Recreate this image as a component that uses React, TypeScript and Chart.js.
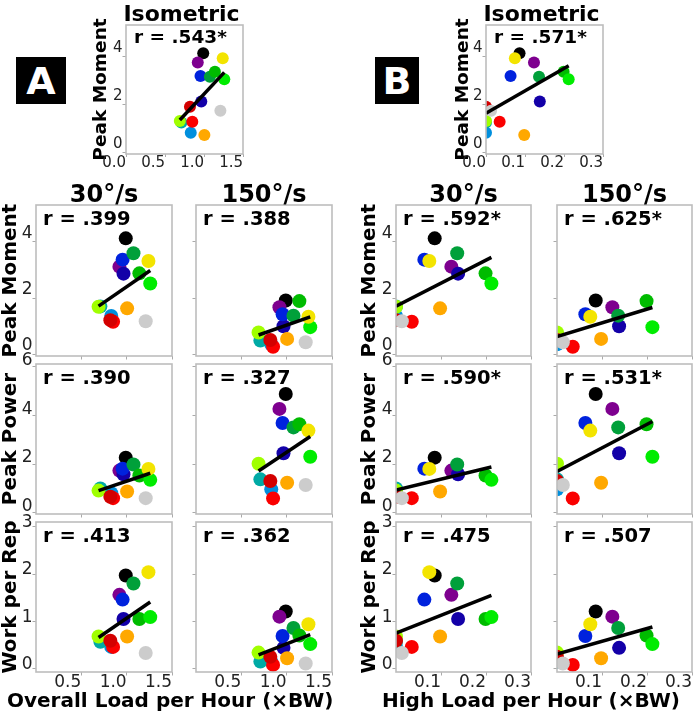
import React, { useEffect, useRef } from "react";
import { Chart, registerables } from "chart.js";

Chart.register(...registerables);

const FONT = '"DejaVu Sans", "Liberation Sans", sans-serif';

// One colour per subject (nipy_spectral sampled in 15 steps)
const subjectColors = [
  "#000000", "#7e008f", "#1300a8", "#0022dd", "#008fdd", "#00aaa5", "#00a03a", "#00bb00",
  "#00ec00", "#a0ff00", "#f3e400", "#ffa800", "#fa0000", "#d30000", "#cccccc",
];

// Training load per hour (×BW), per subject
const overallLoad = [0.99, 0.92, 0.965, 0.955, 0.83, 0.71, 1.075, 1.14, 1.26, 0.69, 1.24, 1.005, 0.85, 0.82, 1.21];
const highLoad = [0.086, 0.123, 0.138, 0.063, 0, 0, 0.136, 0.199, 0.212, 0, 0.074, 0.098, 0.035, 0, 0.013];

// Strength outcomes per subject
const isoMoment = [4.14, 3.75, 2.12, 3.19, 0.82, 1.25, 3.16, 3.37, 3.05, 1.31, 3.93, 0.72, 1.28, 1.9, 1.74];
const moment30 = [4.13, 3.12, 2.87, 3.37, 1.36, 1.7, 3.6, 2.88, 2.52, 1.69, 3.32, 1.63, 1.15, 1.21, 1.17];
const moment150 = [1.91, 1.67, 0.99, 1.42, 0.35, 0.48, 1.37, 1.89, 0.96, 0.77, 1.33, 0.54, 0.26, 0.5, 0.42];
const power30 = [2.26, 1.73, 1.58, 1.81, 0.8, 1.0, 1.98, 1.53, 1.35, 0.91, 1.8, 0.87, 0.6, 0.66, 0.6];
const power150 = [4.87, 4.26, 2.44, 3.68, 0.96, 1.37, 3.5, 3.63, 2.3, 2.01, 3.37, 1.23, 0.59, 1.3, 1.14];
const work30 = [1.97, 1.56, 1.05, 1.46, 0.46, 0.57, 1.8, 1.05, 1.09, 0.68, 2.04, 0.68, 0.46, 0.59, 0.33];
const work150 = [1.21, 1.1, 0.44, 0.69, 0.15, 0.15, 0.86, 0.7, 0.52, 0.34, 0.94, 0.22, 0.08, 0.25, 0.11];

// Panel order: isometric, moment 30, moment 150, power 30, power 150, work 30, work 150
const outcomes = [isoMoment, moment30, moment150, power30, power150, work30, work150];
const rOverallLoad = [".543*", ".399", ".388", ".390", ".327", ".413", ".362"];
const rHighLoad = [".571*", ".592*", ".625*", ".590*", ".531*", ".475", ".507"];
// Fitted line at the lowest and highest load of each group
const fitOverallStart = [1.35, 1.71, 0.68, 0.91, 1.71, 0.66, 0.29];
const fitOverallEnd = [3.34, 2.98, 1.33, 1.62, 3.13, 1.41, 0.72];
const fitHighStart = [1.63, 1.71, 0.62, 0.93, 1.69, 0.75, 0.31];
const fitHighEnd = [3.62, 3.45, 1.66, 1.88, 3.74, 1.55, 0.88];

const overallTicks = [0, 0.5, 1.0, 1.5];
const highTicks = [0, 0.1, 0.2, 0.3];
const momentTicks = [0, 2, 4];
const powerTicks = [0, 2, 4, 6];
const workTicks = [0, 1, 2, 3];
const speedTitles = ["30°/s", "150°/s"];
const rowTitles = ["Peak Moment", "Peak Power", "Work per Rep"];

type Group = "A" | "B";
interface Box { left: number; top: number; width: number; height: number; }

// Plot-area placement on the page
const ISO_BOX: Record<Group, Box> = {
  A: { left: 126, top: 25, width: 121, height: 129 },
  B: { left: 486, top: 25, width: 121, height: 129 },
};
const GRID_COL_LEFT: Record<Group, number[]> = { A: [36, 196], B: [396, 557] };
const GRID_COL_WIDTH: Record<Group, number> = { A: 141, B: 140 };
const GRID_ROW_TOP = [205, 364, 522];
const GRID_ROW_HEIGHT = [151, 150, 150];

const Y_AXES = [
  { min: -0.07, max: 5.32, ticks: momentTicks, labelOffset: -8 },
  { min: -0.05, max: 6.1, ticks: powerTicks, labelOffset: -6 },
  { min: -0.07, max: 3.1, ticks: workTicks, labelOffset: -4 },
];

interface Panel {
  key: string;
  group: Group;
  k: number;
  iso: boolean;
  row: number;
  col: number;
  box: Box;
  padLeft: number;
  padTop: number;
  padRight: number;
  padBottom: number;
}

function buildPanels(): Panel[] {
  const list: Panel[] = [];
  (["A", "B"] as Group[]).forEach((group) => {
    for (let k = 0; k < outcomes.length; k++) {
      const iso = k === 0;
      const row = iso ? 0 : Math.floor((k - 1) / 2);
      const col = iso ? 0 : (k - 1) % 2;
      const box = iso
        ? ISO_BOX[group]
        : { left: GRID_COL_LEFT[group][col], top: GRID_ROW_TOP[row], width: GRID_COL_WIDTH[group], height: GRID_ROW_HEIGHT[row] };
      const padLeft = iso ? (group === "A" ? 35 : 33) : col === 0 ? (group === "A" ? 36 : 37) : 8;
      const padTop = iso ? 25 : row === 0 ? 32 : 16;
      const padRight = 2;
      const padBottom = iso || row === 2 ? 24 : 12;
      list.push({ key: group + k, group, k, iso, row, col, box, padLeft, padTop, padRight, padBottom });
    }
  });
  return list;
}

function decorPlugin(p: Panel, rText: string, title: string | null) {
  return {
    id: "panelDecor",
    afterDatasetsDraw(chart: Chart) {
      const { ctx, chartArea: a } = chart;
      ctx.save();
      ctx.strokeStyle = "#bdbdbd";
      ctx.lineWidth = 1.6;
      ctx.strokeRect(a.left, a.top, a.right - a.left, a.bottom - a.top);
      ctx.restore();
    },
    afterDraw(chart: Chart) {
      const { ctx, chartArea: a } = chart;
      ctx.save();
      ctx.fillStyle = "#000";
      ctx.textBaseline = "alphabetic";
      ctx.textAlign = "left";
      ctx.font = `bold ${p.iso ? 18.5 : 19.5}px ${FONT}`;
      ctx.fillText("r = " + rText, a.left + (p.iso ? 8 : 7), a.top + (p.iso ? 18 : 20));
      if (title) {
        ctx.textAlign = "center";
        ctx.font = `bold ${p.iso ? 22 : 24}px ${FONT}`;
        ctx.fillText(title, (a.left + a.right) / 2 + (p.iso ? -3 : 0), a.top - (p.iso ? 4 : 3));
      }
      ctx.restore();
    },
  };
}

function makeConfig(p: Panel): any {
  const isA = p.group === "A";
  const xs = isA ? overallLoad : highLoad;
  const ys = outcomes[p.k];
  const xTickSet = isA ? overallTicks : highTicks;
  const xTicks = p.iso ? xTickSet : xTickSet.filter((v) => v > 0);
  const yAxis = Y_AXES[p.row];
  const fitStart = isA ? fitOverallStart[p.k] : fitHighStart[p.k];
  const fitEnd = isA ? fitOverallEnd[p.k] : fitHighEnd[p.k];
  const xLo = Math.min(...xs);
  const xHi = Math.max(...xs);
  const showY = p.iso || p.col === 0;
  const showX = p.iso || p.row === 2;
  const title = p.iso ? "Isometric" : p.row === 0 ? speedTitles[p.col] : null;
  const rText = (isA ? rOverallLoad : rHighLoad)[p.k];
  const tickSize = p.iso ? 15 : 17;

  return {
    type: "scatter",
    data: {
      datasets: [
        {
          data: [{ x: xLo, y: fitStart }, { x: xHi, y: fitEnd }],
          showLine: true,
          borderColor: "#000000",
          borderWidth: 3.5,
          borderCapStyle: "butt",
          pointRadius: 0,
          fill: false,
          clip: 0,
        },
        {
          data: xs.map((x, i) => ({ x, y: ys[i] })),
          pointBackgroundColor: subjectColors,
          pointBorderColor: subjectColors,
          pointBorderWidth: 0,
          pointRadius: p.iso ? 6 : 7,
          clip: 0,
        },
      ],
    },
    options: {
      animation: false,
      responsive: false,
      maintainAspectRatio: false,
      devicePixelRatio: 1,
      events: [],
      layout: { padding: { left: 0, top: p.padTop, right: p.padRight, bottom: 0 } },
      plugins: { legend: { display: false }, tooltip: { enabled: false }, title: { display: false } },
      scales: {
        x: {
          type: "linear",
          min: 0,
          max: xTickSet[xTickSet.length - 1],
          afterBuildTicks: (s: any) => {
            s.ticks = xTicks.map((v) => ({ value: v }));
          },
          afterFit: (s: any) => {
            s.height = p.padBottom;
          },
          border: { display: false },
          grid: { drawOnChartArea: false, drawTicks: true, tickLength: p.iso ? 3 : 3.5, tickColor: "#aaaaaa", tickWidth: 1 },
          ticks: {
            display: showX,
            align: "end",
            padding: 0,
            maxRotation: 0,
            autoSkip: false,
            color: "#222222",
            font: { family: FONT, size: tickSize, lineHeight: 0.8 },
            callback: (v: any) => Number(v).toFixed(1),
          },
        },
        y: {
          type: "linear",
          min: yAxis.min,
          max: yAxis.max,
          afterBuildTicks: (s: any) => {
            s.ticks = yAxis.ticks.map((v) => ({ value: v }));
          },
          afterFit: (s: any) => {
            s.width = p.padLeft;
          },
          border: { display: false },
          grid: { drawOnChartArea: false, drawTicks: true, tickLength: 3.5, tickColor: "#aaaaaa", tickWidth: 1 },
          ticks: {
            display: showY,
            padding: 0,
            labelOffset: yAxis.labelOffset,
            autoSkip: false,
            color: "#222222",
            font: { family: FONT, size: tickSize },
            callback: (v: any) => String(v),
          },
          title: {
            display: showY,
            text: rowTitles[p.row],
            color: "#000000",
            padding: 0,
            font: { family: FONT, size: p.iso ? 18.5 : 20, weight: "bold", lineHeight: p.iso ? 1.15 : 1.1 },
          },
        },
      },
    },
    plugins: [decorPlugin(p, rText, title)],
  };
}

const PANELS = buildPanels();

const badgeStyle = (left: number, width: number): React.CSSProperties => ({
  position: "absolute",
  left,
  top: 57,
  width,
  height: 47,
  background: "#000",
  color: "#fff",
  display: "flex",
  alignItems: "center",
  justifyContent: "center",
  font: `bold 38px ${FONT}`,
  lineHeight: "38px",
});

const axisTitleStyle = (left: number): React.CSSProperties => ({
  position: "absolute",
  left,
  top: 690,
  font: `bold 20px ${FONT}`,
  lineHeight: "20px",
  whiteSpace: "nowrap",
  color: "#000",
});

export default function App() {
  const refs = useRef<(HTMLCanvasElement | null)[]>([]);

  useEffect(() => {
    const charts = PANELS.map((p, i) => {
      const canvas = refs.current[i];
      return canvas ? new Chart(canvas, makeConfig(p)) : null;
    });
    return () => charts.forEach((c) => c && c.destroy());
  }, []);

  return (
    <div style={{ position: "absolute", left: 0, top: 0, width: 699, height: 715, background: "#fff", overflow: "hidden" }}>
      {PANELS.map((p, i) => {
        const w = p.padLeft + p.box.width + p.padRight;
        const h = p.padTop + p.box.height + p.padBottom;
        return (
          <canvas
            key={p.key}
            ref={(el) => {
              refs.current[i] = el;
            }}
            width={w}
            height={h}
            style={{ position: "absolute", left: p.box.left - p.padLeft, top: p.box.top - p.padTop, width: w, height: h }}
          />
        );
      })}
      <div style={badgeStyle(16, 50)}>A</div>
      <div style={badgeStyle(375, 44)}>B</div>
      <div style={axisTitleStyle(7)}>Overall Load per Hour (×BW)</div>
      <div style={axisTitleStyle(382)}>High Load per Hour (×BW)</div>
    </div>
  );
}
